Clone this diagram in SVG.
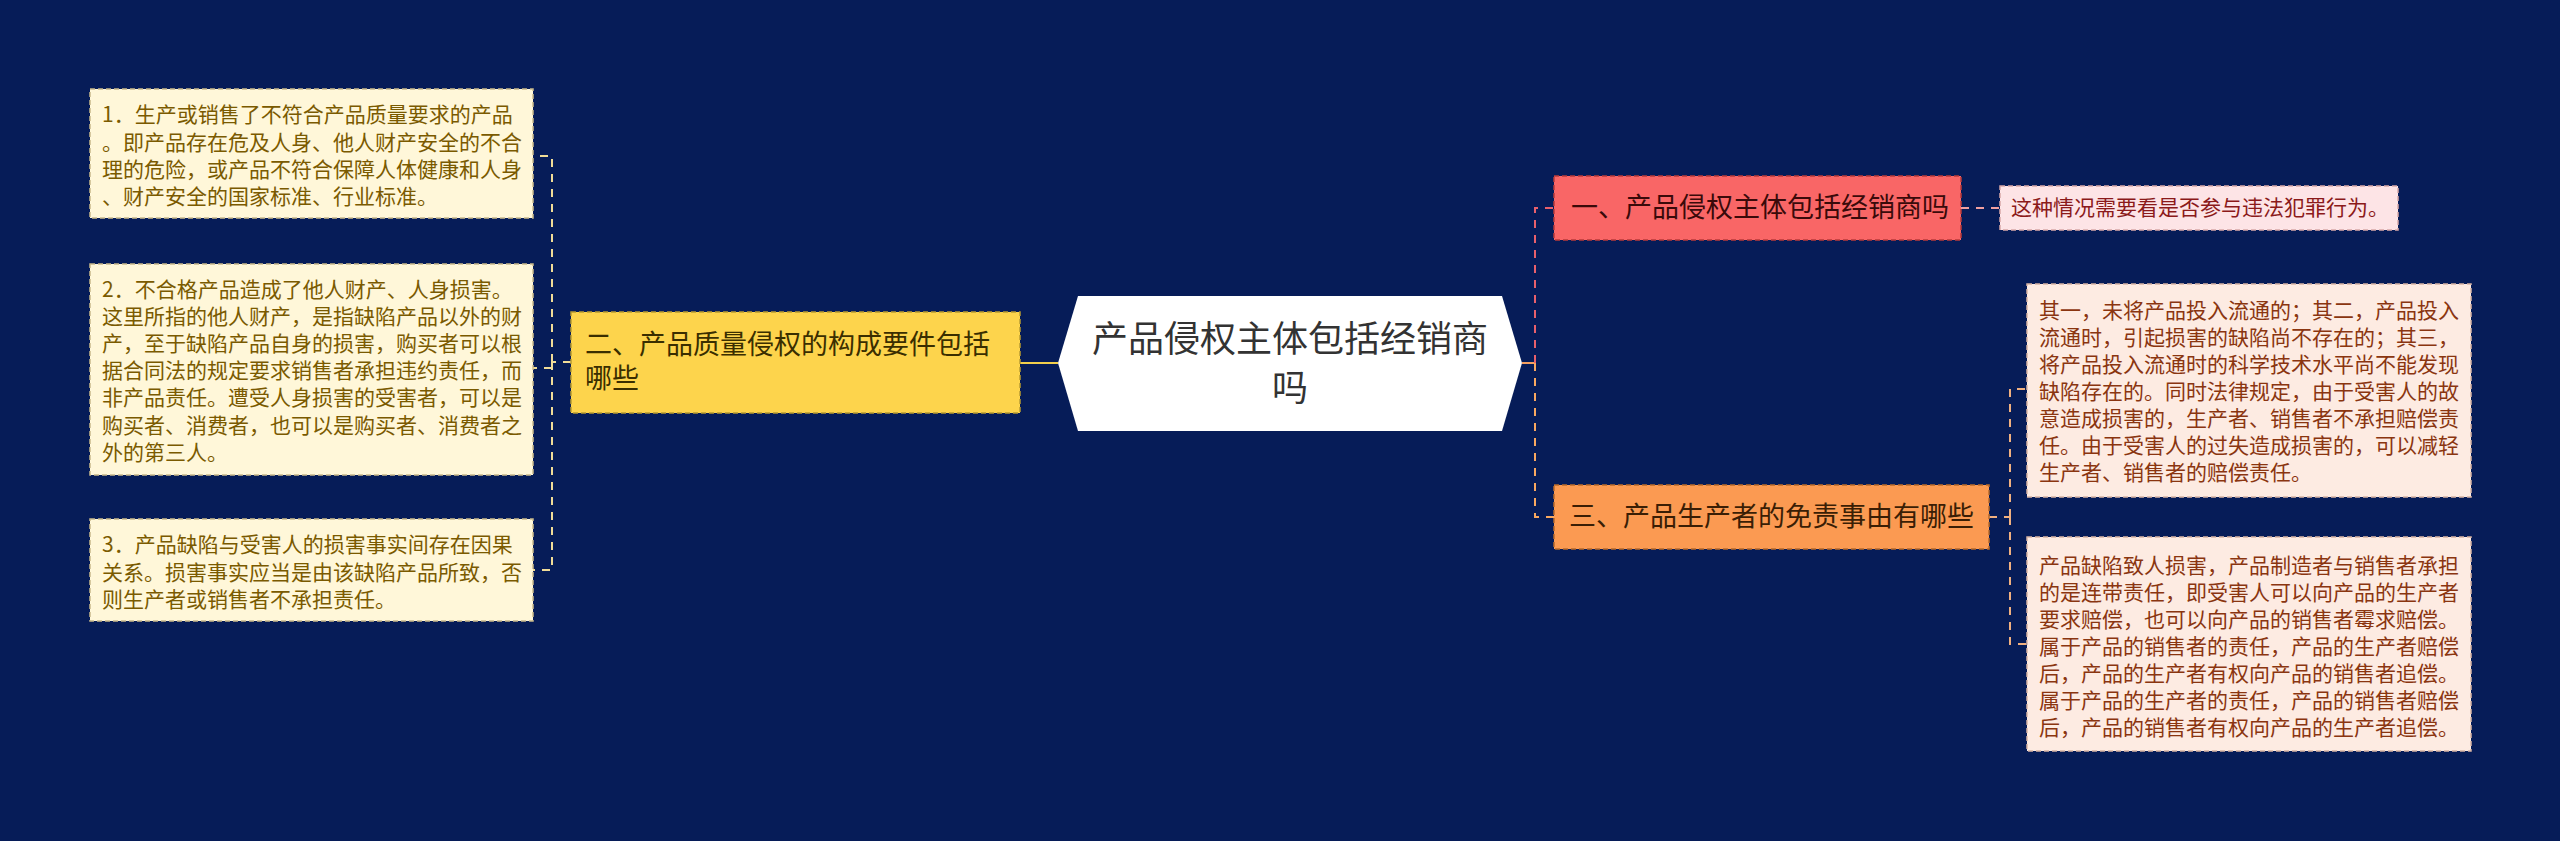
<svg xmlns="http://www.w3.org/2000/svg" width="2560" height="841" viewBox="0 0 2560 841">
<style>
.t{font-family:"Noto Sans CJK SC","Liberation Sans",sans-serif}
.leafL{fill:#fff7d9;stroke:#c9b98a;stroke-width:1.5;stroke-dasharray:5 3}
.leafLt{font-size:21px;fill:#7a5a00}
.leafR{fill:#fdebe2;stroke:#d7b4a4;stroke-width:1.5;stroke-dasharray:5 3}
.leafRt{font-size:21px;fill:#8a3510}
.c{fill:none;stroke-width:2}
.d{stroke-dasharray:8 7}
</style>
<rect width="2560" height="841" fill="#061c58"/>
<g id="connectors">
<path class="c" d="M1020,363 H1058" stroke="#f2cf4c" stroke-width="2.5"/>
<g stroke="#f0dc98">
<path class="c d" d="M571,362 H552"/>
<path class="c d" d="M552,362 V156 H533"/>
<path class="c d" d="M552,362 V570 H533"/>
<path class="c d" d="M552,368 H533"/>
</g>
<path class="c" d="M1522,363 H1535" stroke="#f5a060"/>
<path class="c d" d="M1535,363 V208 H1554" stroke="#e8606c"/>
<path class="c d" d="M1535,363 V517 H1554" stroke="#f8a860"/>
<path class="c d" d="M1961,208 H2000" stroke="#f0a0a0"/>
<g stroke="#f0b080">
<path class="c d" d="M1989,517 H2010"/>
<path class="c d" d="M2010,517 V389 H2028"/>
<path class="c d" d="M2010,517 V644 H2028"/>
</g>
</g>
<g id="center">
<polygon points="1058,363 1078,296 1502,296 1522,363 1502,431 1078,431" fill="#ffffff"/>
<text class="t" font-size="36" fill="#333333" text-anchor="middle"><tspan x="1290" y="352">产品侵权主体包括经销商</tspan><tspan x="1290" y="401">吗</tspan></text>
</g>
<g id="node-left">
<rect x="571" y="312" width="449" height="101" fill="#fdd44c" stroke="#b89a30" stroke-width="1.5" stroke-dasharray="5 3"/>
<text class="t" font-size="27" fill="#3a2e00"><tspan x="585" y="354">二、产品质量侵权的构成要件包括</tspan><tspan x="585" y="388">哪些</tspan></text>
</g>
<g id="leaf-l1">
<rect class="leafL" x="90" y="89" width="443" height="129"/>
<text class="t leafLt"><tspan x="102" y="122">1．生产或销售了不符合产品质量要求的产品</tspan><tspan x="102" y="150">。即产品存在危及人身、他人财产安全的不合</tspan><tspan x="102" y="177">理的危险，或产品不符合保障人体健康和人身</tspan><tspan x="102" y="204">、财产安全的国家标准、行业标准。</tspan></text>
</g>
<g id="leaf-l2">
<rect class="leafL" x="90" y="264" width="443" height="211"/>
<text class="t leafLt"><tspan x="102" y="297">2．不合格产品造成了他人财产、人身损害。</tspan><tspan x="102" y="324">这里所指的他人财产，是指缺陷产品以外的财</tspan><tspan x="102" y="351">产，至于缺陷产品自身的损害，购买者可以根</tspan><tspan x="102" y="378">据合同法的规定要求销售者承担违约责任，而</tspan><tspan x="102" y="405">非产品责任。遭受人身损害的受害者，可以是</tspan><tspan x="102" y="433">购买者、消费者，也可以是购买者、消费者之</tspan><tspan x="102" y="460">外的第三人。</tspan></text>
</g>
<g id="leaf-l3">
<rect class="leafL" x="90" y="519" width="443" height="102"/>
<text class="t leafLt"><tspan x="102" y="552">3．产品缺陷与受害人的损害事实间存在因果</tspan><tspan x="102" y="580">关系。损害事实应当是由该缺陷产品所致，否</tspan><tspan x="102" y="607">则生产者或销售者不承担责任。</tspan></text>
</g>
<g id="node-r1">
<rect x="1554" y="176" width="407" height="64" fill="#f96666" stroke="#b83a3a" stroke-width="1.5" stroke-dasharray="5 3"/>
<text class="t" font-size="27" fill="#3a0a0a" x="1571" y="217">一、产品侵权主体包括经销商吗</text>
</g>
<g id="leaf-r1">
<rect x="2000" y="186" width="398" height="44" fill="#fde4e6" stroke="#d8a8a8" stroke-width="1.5" stroke-dasharray="5 3"/>
<text class="t" font-size="21" fill="#8b1a1a" x="2011" y="215">这种情况需要看是否参与违法犯罪行为。</text>
</g>
<g id="node-r3">
<rect x="1554" y="485" width="435" height="64" fill="#fb9a52" stroke="#b86a2a" stroke-width="1.5" stroke-dasharray="5 3"/>
<text class="t" font-size="27" fill="#3a1e05" x="1569" y="526">三、产品生产者的免责事由有哪些</text>
</g>
<g id="leaf-r3a">
<rect class="leafR" x="2027" y="284" width="444" height="213"/>
<text class="t leafRt"><tspan x="2039" y="318">其一，未将产品投入流通的；其二，产品投入</tspan><tspan x="2039" y="345">流通时，引起损害的缺陷尚不存在的；其三，</tspan><tspan x="2039" y="372">将产品投入流通时的科学技术水平尚不能发现</tspan><tspan x="2039" y="399">缺陷存在的。同时法律规定，由于受害人的故</tspan><tspan x="2039" y="426">意造成损害的，生产者、销售者不承担赔偿责</tspan><tspan x="2039" y="453">任。由于受害人的过失造成损害的，可以减轻</tspan><tspan x="2039" y="480">生产者、销售者的赔偿责任。</tspan></text>
</g>
<g id="leaf-r3b">
<rect class="leafR" x="2027" y="537" width="444" height="214"/>
<text class="t leafRt"><tspan x="2039" y="573">产品缺陷致人损害，产品制造者与销售者承担</tspan><tspan x="2039" y="600">的是连带责任，即受害人可以向产品的生产者</tspan><tspan x="2039" y="627">要求赔偿，也可以向产品的销售者霉求赔偿。</tspan><tspan x="2039" y="654">属于产品的销售者的责任，产品的生产者赔偿</tspan><tspan x="2039" y="681">后，产品的生产者有权向产品的销售者追偿。</tspan><tspan x="2039" y="708">属于产品的生产者的责任，产品的销售者赔偿</tspan><tspan x="2039" y="735">后，产品的销售者有权向产品的生产者追偿。</tspan></text>
</g>
</svg>
